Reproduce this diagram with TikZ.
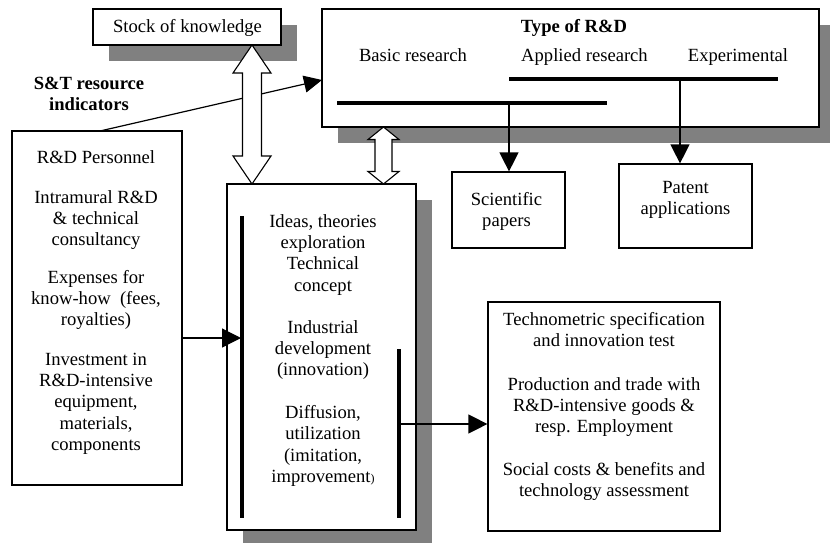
\documentclass[tikz,border=0pt]{standalone}
\usepackage{fontspec}
\setmainfont{Liberation Serif}
\usetikzlibrary{arrows.meta,shadows}
\definecolor{shadowgray}{HTML}{808080}
\newcommand\txtln[4]{\node[txt] (#1) at (#2,#3) {#4};}
\newcommand\dblblockarrow[6]{%
  \draw[blockarr] (#1,#2) -- (#1+#5,#2+#6) -- (#1+#4,#2+#6) -- (#1+#4,#3-#6) -- (#1+#5,#3-#6) -- (#1,#3)
   -- (#1-#5,#3-#6) -- (#1-#4,#3-#6) -- (#1-#4,#2+#6) -- (#1-#5,#2+#6) -- cycle;}
\begin{document}
\begin{tikzpicture}[x=1pt,y=-1pt,
  box/.style={draw, line width=1.2pt, fill=white, inner sep=0pt, rectangle},
  shad/.style={drop shadow={shadow xshift=16pt, shadow yshift=-16pt, fill=shadowgray, opacity=1}},
  txt/.style={anchor=base, inner sep=0pt, font=\fontsize{18.6pt}{21.4pt}\selectfont},
  bold/.style={txt, font=\fontsize{18.6pt}{21.4pt}\selectfont\bfseries},
  arr/.style={line width=1.2pt, -{Triangle[length=19pt,width=19pt]}},
  sarr/.style={line width=1.2pt, -{Triangle[length=18pt,width=17pt]}},
  thick bar/.style={line width=4pt},
  blockarr/.style={line width=1.1pt, fill=white, line join=miter}]
\useasboundingbox (0,0) rectangle (830,542);

% boxes
\node[box, shad, minimum width=188pt, minimum height=36pt] (stock) at (187,27) {};
\node[box, shad, minimum width=497pt, minimum height=118pt] (type) at (570.5,68) {};
\node[box, minimum width=170pt, minimum height=354pt] (left) at (97,308) {};
\node[box, shad, minimum width=189pt, minimum height=346pt] (mid) at (321.5,357) {};
\node[box, minimum width=113pt, minimum height=76pt] (sci) at (508.5,210) {};
\node[box, minimum width=133pt, minimum height=84pt] (pat) at (685.5,206) {};
\node[box, minimum width=232pt, minimum height=229pt] (right) at (604,416.5) {};

% texts
\node[txt] (stocktxt) at (187.5,32) {Stock of knowledge};
\node[bold] (typetxt) at (574,32) {Type of R\&D};
\node[txt] (basic) at (413,61) {Basic research};
\node[txt] (applied) at (584.5,61) {Applied research};
\node[txt] (exper) at (738,61) {Experimental};
\node[bold] (st1) at (89,89.5) {S\&T resource};
\node[bold] (st2) at (89,110.5) {indicators};

\txtln{l1}{96}{163}{R\&D Personnel}
\txtln{l2}{96}{203}{Intramural R\&D}
\txtln{l3}{96}{224.4}{\& technical}
\txtln{l4}{96}{245.8}{consultancy}
\txtln{l5}{96}{283}{Expenses for}
\txtln{l6}{96}{304.4}{know-how~ (fees,}
\txtln{l7}{96}{325.8}{royalties)}
\txtln{l8}{96}{365}{Investment in}
\txtln{l9}{96}{386.4}{R\&D-intensive}
\txtln{l10}{96}{407.8}{equipment,}
\txtln{l11}{96}{429.2}{materials,}
\txtln{l12}{96}{450.6}{components}

\txtln{m1}{323}{227}{Ideas, theories}
\txtln{m2}{323}{248.4}{exploration}
\txtln{m3}{323}{269.8}{Technical}
\txtln{m4}{323}{291.2}{concept}
\txtln{m5}{323}{333}{Industrial}
\txtln{m6}{323}{354.4}{development}
\txtln{m7}{323}{375.8}{(innovation)}
\txtln{m8}{323}{418.3}{Diffusion,}
\txtln{m9}{323}{439.7}{utilization}
\txtln{m10}{323}{461.1}{(imitation,}
\txtln{m11}{323}{482.5}{improvement{\fontsize{12pt}{12pt}\selectfont)}}

\txtln{r1}{604}{325}{Technometric specification}
\txtln{r2}{604}{346.4}{and innovation test}
\txtln{r3}{604}{390}{Production and trade with}
\txtln{r4}{604}{411.4}{R\&D-intensive goods \&}
\txtln{r5}{604}{432.8}{resp. Employment}
\txtln{r6}{604}{475}{Social costs \& benefits and}
\txtln{r7}{604}{496.4}{technology assessment}

\txtln{s1}{506.5}{205}{Scientific}
\txtln{s2}{506.5}{226.4}{papers}
\txtln{p1}{685.5}{193.3}{Patent}
\txtln{p2}{685.5}{214.7}{applications}

% thick bars
\coordinate (b1s) at (337,103);
\coordinate (b1e) at (607,103);
\coordinate (b2s) at (509,79);
\coordinate (b2e) at (778,79);
\draw[thick bar] (b1s) -- (b1e);
\draw[thick bar] (b2s) -- (b2e);
\coordinate (v1s) at (242,216);
\coordinate (v1e) at (242,518);
\coordinate (v2s) at (399,349);
\coordinate (v2e) at (399,518);
\draw[thick bar] (v1s) -- (v1e);
\draw[thick bar] (v2s) -- (v2e);

% connectors
\coordinate (d1) at (509,103);
\coordinate (d2) at (680,79);
\draw[arr] (d1) -- (d1 |- sci.north);
\draw[arr] (d2) -- (d2 |- pat.north);
\coordinate (stfrom) at (100,131);
\coordinate (stin) at (322,80);
\draw[sarr] (stfrom) -- (stin);
\coordinate (lin) at (241,338);
\draw[arr] (lin -| left.east) -- (lin);
\coordinate (rout) at (399,424);
\draw[arr] (rout) -- (rout -| right.west);

% block double arrows
\dblblockarrow{252}{45}{184}{9.5}{19}{28}
\dblblockarrow{383.5}{127}{184}{8.5}{15.5}{12.5}
\end{tikzpicture}
\end{document}
